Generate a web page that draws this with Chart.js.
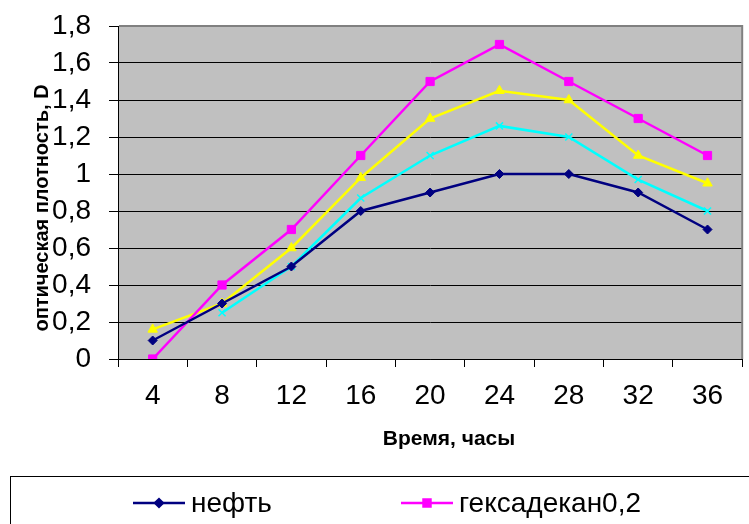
<!DOCTYPE html>
<html>
<head>
<meta charset="utf-8">
<script src="https://cdn.jsdelivr.net/npm/chart.js@4/dist/chart.umd.min.js"></script>
<style>
  html, body { margin: 0; padding: 0; background: #fff; overflow: hidden; }
</style>
</head>
<body>
<canvas id="chart" width="749" height="524"></canvas>
<script>
const hours = ['4', '8', '12', '16', '20', '24', '28', '32', '36'];
const oil = [0.1, 0.3, 0.5, 0.8, 0.9, 1.0, 1.0, 0.9, 0.7];
const hexadecane02 = [0, 0.4, 0.7, 1.1, 1.5, 1.7, 1.5, 1.3, 1.1];
const series3 = [0.16, 0.3, 0.6, 0.98, 1.3, 1.45, 1.4, 1.1, 0.95];
const series4 = [null, 0.25, 0.5, 0.87, 1.1, 1.26, 1.2, 0.97, 0.8];
const yTitle = 'оптическая плотность, D';
const xTitle = 'Время, часы';

const FONT = '"Liberation Sans", Arial, sans-serif';

function fmt(v){
  const r = Math.round(v * 10) / 10;
  return String(r).replace('.', ',');
}

const plotBg = {
  id: 'plotBg',
  beforeDraw(chart){
    const {ctx, chartArea: a} = chart;
    ctx.save();
    ctx.fillStyle = '#c0c0c0';
    ctx.fillRect(a.left, a.top, a.right - a.left, a.bottom - a.top);
    ctx.restore();
  },
  beforeDatasetsDraw(chart){
    const {ctx, chartArea: a} = chart;
    ctx.save();
    ctx.strokeStyle = '#808080';
    ctx.lineWidth = 2;
    ctx.beginPath();
    ctx.moveTo(a.left + 1, a.top);
    ctx.lineTo(a.right, a.top);
    ctx.lineTo(a.right, a.bottom);
    ctx.stroke();
    ctx.restore();
  }
};

const titlesAndLegend = {
  id: 'titlesAndLegend',
  afterDraw(chart){
    const ctx = chart.ctx;
    ctx.save();
    ctx.fillStyle = '#000';
    ctx.font = 'bold 21px ' + FONT;
    ctx.textAlign = 'center';
    ctx.textBaseline = 'alphabetic';
    ctx.fillText(xTitle, 449, 445);
    ctx.save();
    ctx.translate(48, 208);
    ctx.rotate(-Math.PI / 2);
    ctx.font = 'bold 20px ' + FONT;
    ctx.fillText(yTitle, 0, 0);
    ctx.restore();

    // legend box (lower part is cut off by the picture edge)
    ctx.strokeStyle = '#000';
    ctx.lineWidth = 1;
    ctx.strokeRect(10.5, 476.5, 800, 120);
    const cols = [133, 401];
    ctx.font = '28px ' + FONT;
    ctx.textAlign = 'left';
    ctx.textBaseline = 'middle';
    chart.data.datasets.forEach((ds, i) => {
      const x = cols[i % 2];
      const y = 503 + Math.floor(i / 2) * 36;
      ctx.strokeStyle = ds.borderColor;
      ctx.lineWidth = 2.5;
      ctx.beginPath();
      ctx.moveTo(x, y);
      ctx.lineTo(x + 52, y);
      ctx.stroke();
      ctx.fillStyle = ds.pointBackgroundColor;
      Chart.helpers.drawPoint(ctx, {
        pointStyle: ds.pointStyle,
        radius: ds.pointRadius * 0.85,
        borderWidth: ds.pointBorderWidth || 1,
        rotation: 0
      }, x + 26, y);
      ctx.fillStyle = '#000';
      ctx.fillText(ds.label, x + 58, y + 1);
    });
    ctx.restore();
  }
};

function line(label, data, color, style, radius){
  return {
    label, data,
    borderColor: color,
    backgroundColor: color,
    pointBackgroundColor: color,
    pointBorderColor: color,
    pointStyle: style,
    pointRadius: radius,
    pointBorderWidth: style === 'crossRot' ? 1.5 : 1,
    borderWidth: 2.5,
    tension: 0,
    spanGaps: false
  };
}

new Chart(document.getElementById('chart'), {
  type: 'line',
  data: {
    labels: hours,
    datasets: [
      line('нефть', oil, '#000080', 'rectRot', 4.5),
      line('гексадекан0,2', hexadecane02, '#ff00ff', 'rect', 5.8),
      line('Ряд3', series3, '#ffff00', 'triangle', 5.5),
      line('Ряд4', series4, '#00ffff', 'crossRot', 5)
    ]
  },
  options: {
    responsive: false,
    animation: false,
    layout: { padding: { top: 26, right: 6, left: 0, bottom: 0 } },
    plugins: { legend: { display: false }, tooltip: { enabled: false } },
    scales: {
      x: {
        offset: true,
        afterFit(s){ s.height = 165; s.paddingLeft = 0; s.paddingRight = 0; },
        grid: { offset: true, drawOnChartArea: false, tickLength: 8, color: '#000', lineWidth: 1 },
        border: { display: true, color: '#000', width: 1 },
        ticks: { color: '#000', padding: 12, font: { family: FONT, size: 28 } }
      },
      y: {
        min: 0, max: 1.8,
        afterFit(s){ s.width = 118; s.paddingTop = 0; s.paddingBottom = 0; },
        grid: { color: '#000', lineWidth: 1, tickLength: 9 },
        border: { display: true, color: '#000', width: 1 },
        ticks: { stepSize: 0.2, autoSkip: false, color: '#000', padding: 18, font: { family: FONT, size: 28 }, callback: v => fmt(v) }
      }
    }
  },
  plugins: [plotBg, titlesAndLegend]
});
</script>
</body>
</html>
